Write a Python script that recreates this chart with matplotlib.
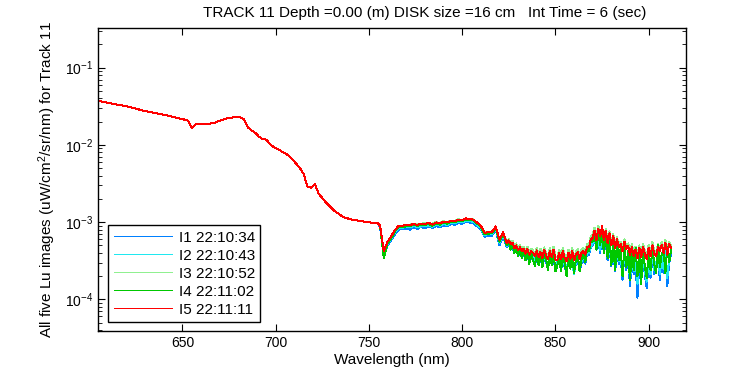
import numpy as np
import matplotlib
matplotlib.use("Agg")
import matplotlib.pyplot as plt

plt.rcParams['font.family'] = ['Liberation Sans', 'DejaVu Sans']
plt.rcParams['mathtext.fontset'] = 'custom'
plt.rcParams['mathtext.rm'] = 'Liberation Sans'
plt.rcParams['mathtext.it'] = 'Liberation Sans'

# ---- data (values in units of 1e-6 uW/cm^2/sr/nm) ----
scale = 1e-6

# segment A: 605..755 nm, 2 nm step (all five scans practically identical)
wl_a = np.arange(605, 756, 2)
seg_a = [37100, 36300, 35500, 34800, 34000, 33300, 32600, 32000, 31300, 30400,
         29500, 28600, 27800, 27200, 26600, 26100, 25500, 24900, 24300, 23700,
         23100, 22500, 21800, 21300, 20600, 16400, 18400, 18500, 18600, 18700,
         18900, 19300, 20100, 20900, 21700, 22400, 22700, 22900, 22800, 21500,
         17000, 15500, 14400, 12800, 11900, 11700, 10200, 9400, 8900, 8300,
         7800, 7250, 6500, 5700, 5000, 4200, 2900, 2800, 3100, 2350,
         2050, 1800, 1600, 1430, 1320, 1220, 1150, 1110, 1080, 1060,
         1040, 1020, 1010, 990, 970, 960]

# segment B: 756..824 nm, 2 nm step
wl_b = np.arange(756, 825, 2)
i1_b = [860, 380, 500, 590, 700, 800, 810, 830, 800, 860, 820, 870, 830, 880, 840, 890, 860, 910,
        880, 950, 920, 980, 950, 1020, 990, 970, 880, 810, 650, 660, 670, 800, 500, 660, 470]
i2_b = [880, 400, 520, 610, 740, 840, 850, 860, 860, 890, 870, 880, 890, 910, 870, 930, 900, 950,
        920, 980, 960, 1020, 990, 1050, 1030, 1010, 930, 840, 680, 700, 710, 830, 540, 700, 490]
i3_b = [910, 410, 540, 650, 780, 890, 900, 920, 930, 940, 950, 950, 970, 960, 960, 1000, 970, 1030,
        1000, 1050, 1030, 1090, 1060, 1120, 1100, 1080, 990, 890, 740, 730, 760, 870, 600, 730, 540]
i4_b = [890, 340, 530, 620, 760, 860, 870, 880, 890, 920, 900, 920, 910, 950, 900, 960, 930, 990,
        950, 1010, 990, 1050, 1020, 1090, 1060, 1050, 960, 870, 700, 710, 720, 850, 560, 710, 500]
i5_b = [900, 420, 560, 660, 790, 900, 890, 930, 910, 950, 920, 960, 940, 980, 930, 990, 960, 1010,
        990, 1040, 1020, 1080, 1050, 1120, 1090, 1080, 990, 900, 730, 740, 750, 880, 590, 740, 530]

# segment C: 825..912 nm, 1 nm step (noisy)
wl_c = np.arange(825, 913, 1)
i1_c = [540, 450, 480, 400, 440, 370, 400, 350, 390, 320,
        380, 300, 350, 340, 280, 360, 290, 340, 270, 330,
        300, 250, 350, 290, 330, 240, 300, 330, 240, 310,
        260, 220, 320, 270, 310, 230, 290, 320, 240, 290,
        330, 290, 390, 380, 470, 500, 620, 440, 580, 400,
        650, 400, 560, 320, 480, 270, 430, 230, 400, 290,
        350, 180, 380, 240, 320, 150, 330, 210, 290, 105,
        300, 170, 350, 200, 140, 310, 190, 360, 210, 260,
        380, 180, 330, 220, 400, 150, 300, 380]
i2_c = [560, 470, 500, 420, 460, 390, 420, 370, 410, 340,
        400, 320, 370, 360, 300, 380, 310, 360, 290, 350,
        320, 270, 370, 310, 350, 260, 320, 350, 260, 330,
        280, 240, 340, 290, 330, 210, 310, 340, 260, 310,
        350, 310, 410, 400, 490, 540, 640, 460, 620, 430,
        680, 430, 590, 350, 510, 300, 460, 250, 430, 310,
        380, 200, 410, 270, 350, 180, 360, 230, 320, 160,
        330, 190, 380, 230, 170, 340, 210, 390, 240, 290,
        410, 210, 360, 250, 430, 190, 330, 420]
i3_c = [600, 540, 570, 490, 530, 460, 500, 450, 480, 420,
        480, 410, 450, 430, 390, 460, 380, 450, 370, 470,
        400, 360, 460, 380, 480, 360, 350, 440, 360, 460,
        370, 340, 440, 360, 460, 350, 410, 450, 360, 440,
        460, 420, 520, 510, 650, 680, 850, 630, 900, 720,
        840, 620, 820, 580, 760, 540, 700, 500, 640, 520,
        560, 460, 600, 490, 530, 420, 520, 400, 480, 380,
        500, 390, 520, 420, 370, 510, 400, 550, 430, 400,
        520, 460, 560, 440, 590, 420, 560, 500]
i4_c = [560, 440, 540, 400, 480, 360, 450, 340, 430, 320,
        420, 290, 400, 320, 270, 390, 280, 380, 260, 400,
        330, 240, 390, 280, 410, 230, 270, 370, 230, 380,
        290, 200, 360, 250, 380, 220, 330, 370, 230, 330,
        400, 300, 460, 420, 580, 560, 740, 440, 780, 500,
        800, 400, 700, 340, 620, 280, 560, 240, 520, 320,
        460, 200, 500, 260, 420, 180, 420, 240, 460, 200,
        380, 160, 450, 260, 190, 420, 240, 470, 280, 220,
        500, 260, 390, 430, 220, 480, 300, 440]
i5_c = [580, 520, 540, 460, 500, 430, 470, 420, 450, 390,
        450, 380, 420, 400, 360, 430, 350, 410, 340, 440,
        370, 330, 420, 350, 440, 330, 320, 400, 330, 420,
        340, 310, 400, 330, 420, 320, 380, 410, 330, 400,
        420, 380, 480, 470, 600, 620, 780, 580, 820, 660,
        880, 580, 780, 540, 720, 500, 660, 460, 600, 480,
        520, 420, 560, 450, 490, 380, 480, 360, 440, 340,
        460, 350, 480, 380, 330, 470, 360, 500, 390, 360,
        480, 420, 510, 400, 540, 380, 520, 460]

labels = ['I1 22:10:34', 'I2 22:10:43', 'I3 22:10:52', 'I4 22:11:02', 'I5 22:11:11']
colors = ['#0080ff', '#20e8f0', '#90f090', '#00c800', '#ff0000']
series_b = [i1_b, i2_b, i3_b, i4_b, i5_b]
series_c = [i1_c, i2_c, i3_c, i4_c, i5_c]

wavelength = np.concatenate([wl_a, wl_b, wl_c])

fig = plt.figure(figsize=(7.5, 3.75), dpi=100)
ax = fig.add_axes([0.1313, 0.1173, 0.7833, 0.8072])

for lab, col, sb, sc in zip(labels, colors, series_b, series_c):
    vals = np.array(seg_a + sb + sc, dtype=float) * scale
    ax.plot(wavelength, vals, color=col, lw=0.72, label=lab, antialiased=False)

ax.set_yscale('log')
ax.set_xlim(605, 920)
ax.set_ylim(10**-4.41, 10**-0.49)
ax.set_xticks([650, 700, 750, 800, 850, 900])
ax.tick_params(which='both', direction='in', top=True, right=True, labelsize=10)
ax.tick_params(which='major', length=5)
ax.tick_params(which='minor', length=3)
for s in ax.spines.values():
    s.set_linewidth(1.0)

ax.set_xlabel('Wavelength (nm)', fontsize=11, labelpad=2)
ax.set_ylabel('All five Lu images (uW/cm$^2$/sr/nm) for Track 11', fontsize=11, labelpad=5)
fig.text(425 / 750, 1 - 13 / 375, 'TRACK 11 Depth =0.00 (m) DISK size =16 cm   Int Time = 6 (sec)',
         ha='center', va='center', fontsize=11)

leg = ax.legend(loc='lower left', bbox_to_anchor=(0.0167, 0.0297), borderaxespad=0,
                fancybox=False, edgecolor='black', framealpha=1, fontsize=11,
                handlelength=3.8, handletextpad=0.45, labelspacing=0.26, borderpad=0.35)
leg.get_frame().set_linewidth(1.0)

fig.savefig('out.png', dpi=100)
